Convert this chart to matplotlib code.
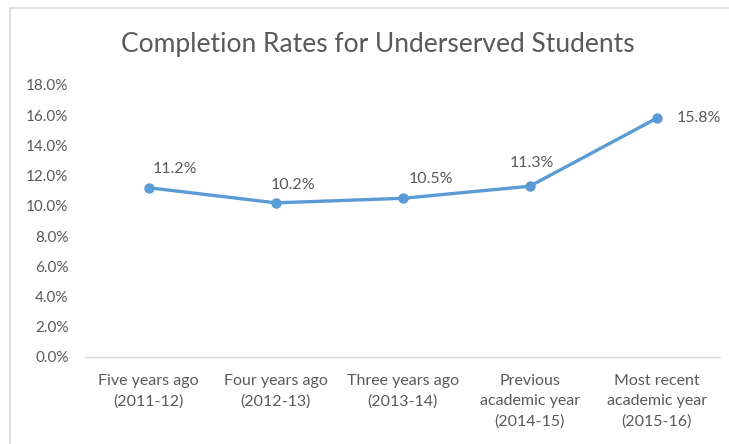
import matplotlib.pyplot as plt
from matplotlib.lines import Line2D
from matplotlib.ticker import PercentFormatter

# Data
categories = ['Five years ago\n(2011-12)', 'Four years ago\n(2012-13)', 'Three years ago\n(2013-14)',
              'Previous\nacademic year\n(2014-15)', 'Most recent\nacademic year\n(2015-16)']
rates = [11.2, 10.2, 10.5, 11.3, 15.8]
y_ticks = [0, 2, 4, 6, 8, 10, 12, 14, 16, 18]

# label offsets in pixels (hand placed like the Excel original)
label_dx = [26, 17, 28, 2, 42]
label_dy = [19, 18, 19, 23, 0]

text_color = '#595959'
line_color = '#5B9BD5'
plt.rcParams['font.family'] = ['Lato', 'DejaVu Sans']

fig = plt.figure(figsize=(7.29, 4.44), dpi=100)
ax = fig.add_axes([0.117, 0.196, 0.871, 0.6126])

x = range(len(categories))
ax.plot(x, rates, color=line_color, linewidth=2.4, marker='o', markersize=6.5)

for i, v in enumerate(rates):
    ax.annotate(f'{v:.1f}%', (i, v), xytext=(label_dx[i], label_dy[i]), textcoords='offset pixels',
                ha='center', va='center', fontsize=11.5, color=text_color)

ax.set_xlim(-0.5, len(categories) - 0.5)
ax.set_ylim(0, 18)
ax.set_yticks(y_ticks)
ax.yaxis.set_major_formatter(PercentFormatter(decimals=1))
ax.set_xticks(list(x))
ax.set_xticklabels(categories, linespacing=1.55)
ax.tick_params(axis='both', length=0, labelcolor=text_color)
ax.tick_params(axis='y', pad=12, labelsize=11)
ax.tick_params(axis='x', pad=12, labelsize=11.5)

for side in ['top', 'right', 'left']:
    ax.spines[side].set_visible(False)
ax.spines['bottom'].set_color('#D9D9D9')
ax.spines['bottom'].set_linewidth(1)

fig.suptitle('Completion Rates for Underserved Students', x=0.518, y=0.899, va='center',
             fontsize=19, color=text_color)

# light chart border (top and left edges)
fig.add_artist(Line2D([10 / 729, 1], [1 - 8 / 444, 1 - 8 / 444], transform=fig.transFigure,
                      color='#D9D9D9', linewidth=1.2))
fig.add_artist(Line2D([10 / 729, 10 / 729], [0, 1 - 8 / 444], transform=fig.transFigure,
                      color='#D9D9D9', linewidth=1.2))

fig.savefig('out.png', dpi=100)
